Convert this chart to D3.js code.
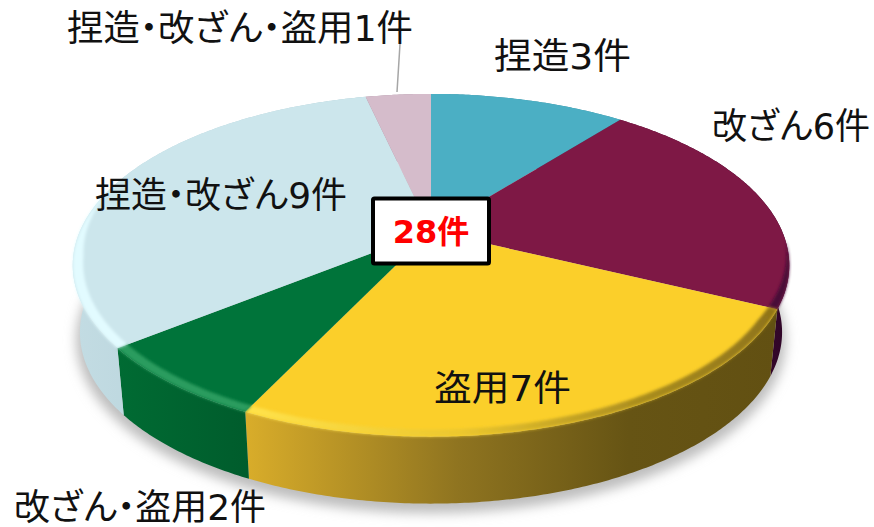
<!DOCTYPE html>
<html>
<head>
<meta charset="utf-8">
<script src="https://cdn.jsdelivr.net/npm/d3@7"></script>
<style>
  html, body { margin: 0; background: #fff; }
  svg { display: block; }
  text { font-family: "DejaVu Sans", "Noto Sans CJK JP", sans-serif; font-feature-settings: "palt"; }
</style>
</head>
<body>
<svg id="chart" width="874" height="527"></svg>
<script>
var categories = ['捏造', '改ざん', '盗用', '改ざん・盗用', '捏造・改ざん', '捏造・改ざん・盗用'];
var counts = [3, 6, 7, 2, 9, 1];
var totalLabel = '28件';

var topColors = ['#4bafc4', '#7e1845', '#fbcf2a', '#00743a', '#cce6ec', '#d5bccb'];
var rimColors = [null, '#4a0d38', null, '#2a9c5e', '#e2fbff', null];
var wallStops = [
  [['#3b8c9e', 0], ['#3b8c9e', 1]],
  [['#5a0f38', 0], ['#2f0628', 1]],
  [['#d9ad2a', 0], ['#8f7420', 0.4], ['#665414', 0.72], ['#625012', 1]],
  [['#006b33', 0], ['#005c2c', 1]],
  [['#c3dce3', 0], ['#a9c8d1', 1]],
  [['#a88f9f', 0], ['#a88f9f', 1]]
];

// where the labels sit: start x, baseline y, drawn width
var labelAt = [[494, 69, 137], [712, 139, 158], [434, 401, 137], [14, 520, 252], [95, 208, 252], [67, 41, 346]];

var cx = 431, cy = 231, rx = 351, ry = 164.5, persp = 0.2, depth = 67, lowerShrink = 0.98;

var svg = d3.select('#chart');
var defs = svg.append('defs');
defs.append('filter').attr('id', 'shadow').attr('x', '-10%').attr('y', '-10%').attr('width', '120%').attr('height', '120%')
  .append('feGaussianBlur').attr('stdDeviation', 6);
defs.append('filter').attr('id', 'soft').attr('x', '-10%').attr('y', '-10%').attr('width', '120%').attr('height', '120%')
  .append('feGaussianBlur').attr('stdDeviation', 1.6);

var arcs = d3.pie().sort(null).value(function(d) { return d; })(counts);
var line = d3.line();

// tilted disc with some perspective: near side gets bigger
function project(theta, r, lower) {
  var v = Math.cos(theta) * r, u = Math.sin(theta) * r;
  var w = 1 + persp * v;
  var s = lower ? lowerShrink : 1;
  return [cx + s * rx * u / w, cy - ry * v / w + (lower ? depth : 0)];
}

function sweep(a0, a1) {
  var n = Math.max(2, Math.ceil((a1 - a0) / 0.01));
  return d3.range(n + 1).map(function(i) { return a0 + (a1 - a0) * i / n; });
}

function rimWidth(theta) {
  // rim fades out towards the back, sooner on the right
  var start = Math.sin(theta) > 0 ? -0.05 : 0.3;
  var t = Math.max(0, Math.min(1, (start - Math.cos(theta)) / 0.45));
  return 0.028 * t;
}

// soft shadow under the disc
var shadowPts = sweep(0, 2 * Math.PI).map(function(t) {
  var p = project(t, 1.01, true);
  return [p[0], p[1] + 7];
});
svg.append('path').attr('d', line(shadowPts) + 'Z').attr('fill', '#bdbdbd').attr('filter', 'url(#shadow)');

// walls
arcs.forEach(function(d, i) {
  var pts = sweep(d.startAngle, d.endAngle);
  var upper = pts.map(function(t) { return project(t, 1, false); });
  var lower = pts.map(function(t) { return project(t, 1, true); }).reverse();
  var xs = d3.extent(upper.concat(lower), function(p) { return p[0]; });
  var grad = defs.append('linearGradient').attr('id', 'wall' + i).attr('gradientUnits', 'userSpaceOnUse')
    .attr('x1', xs[0]).attr('x2', xs[1]).attr('y1', 0).attr('y2', 0);
  wallStops[i].forEach(function(s) {
    grad.append('stop').attr('offset', s[1]).attr('stop-color', s[0]);
  });
  svg.append('path').attr('d', line(upper.concat(lower)) + 'Z').attr('fill', 'url(#wall' + i + ')');
});

// top face
arcs.forEach(function(d, i) {
  var pts = sweep(d.startAngle, d.endAngle).map(function(t) { return project(t, 1, false); });
  pts.push(project(0, 0, false));
  svg.append('path').attr('d', line(pts) + 'Z').attr('fill', topColors[i]);
});

// bevel
var yellowRim = defs.append('linearGradient').attr('id', 'rimYellow').attr('gradientUnits', 'userSpaceOnUse')
  .attr('x1', 250).attr('x2', 775).attr('y1', 0).attr('y2', 0);
[['#ffe24a', 0], ['#ecc72e', 0.4], ['#a98c1e', 0.75], ['#8f7419', 1]].forEach(function(s) {
  yellowRim.append('stop').attr('offset', s[1]).attr('stop-color', s[0]);
});
arcs.forEach(function(d, i) {
  var color = i === 2 ? 'url(#rimYellow)' : rimColors[i];
  if (!color) return;
  var pts = sweep(d.startAngle, d.endAngle).filter(function(t) { return rimWidth(t) > 0; });
  if (pts.length < 2) return;
  var outer = pts.map(function(t) { return project(t, 1, false); });
  var inner = pts.map(function(t) { return project(t, 1 - rimWidth(t), false); }).reverse();
  svg.append('path').attr('d', line(outer.concat(inner)) + 'Z').attr('fill', color).attr('filter', 'url(#soft)');
});

// labels
svg.selectAll('text.label').data(categories).enter().append('text')
  .attr('class', 'label')
  .attr('x', function(d, i) { return labelAt[i][0]; })
  .attr('y', function(d, i) { return labelAt[i][1]; })
  .attr('textLength', function(d, i) { return labelAt[i][2]; })
  .attr('lengthAdjust', 'spacingAndGlyphs')
  .attr('font-size', 36)
  .attr('fill', '#111')
  .text(function(d, i) { return d + counts[i] + '件'; });

// leader for the 1件 slice
svg.append('line').attr('x1', 400).attr('y1', 44).attr('x2', 397).attr('y2', 92)
  .attr('stroke', '#a6a6a6').attr('stroke-width', 1.5);

// centre box
svg.append('rect').attr('x', 373).attr('y', 198.5).attr('width', 116).attr('height', 65).attr('rx', 1.5)
  .attr('fill', '#fff').attr('stroke', '#000').attr('stroke-width', 4);
svg.append('text').attr('x', cx).attr('y', 243).attr('text-anchor', 'middle')
  .attr('font-size', 32).attr('font-weight', 'bold').attr('fill', '#ff0000')
  .text(totalLabel);
</script>
</body>
</html>
